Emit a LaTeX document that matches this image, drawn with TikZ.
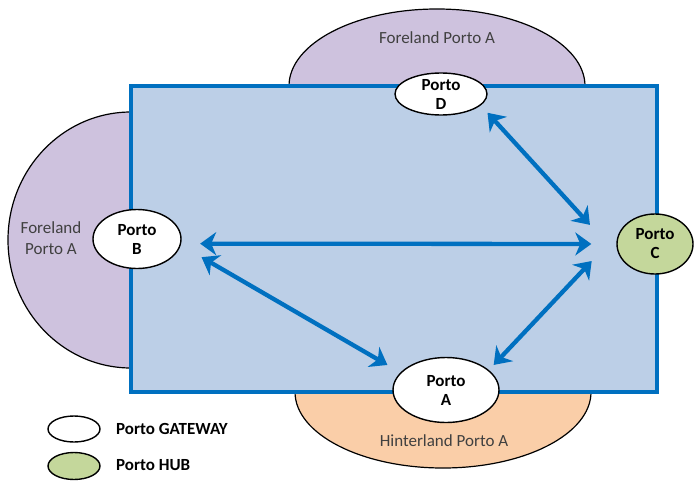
\documentclass[tikz,border=0pt]{standalone}
\usepackage{fontspec}
\setmainfont{Carlito}
\usepackage{tikz}
\usetikzlibrary{shapes.geometric,arrows.meta}
\definecolor{landlila}{RGB}{206,194,222}
\definecolor{landpesca}{RGB}{250,206,168}
\definecolor{mareblu}{RGB}{188,207,231}
\definecolor{lineablu}{RGB}{0,112,192}
\definecolor{hubverde}{RGB}{196,215,155}

\begin{document}
\begin{tikzpicture}[x=1pt,y=-1pt,
  port/.style={ellipse,draw=black,line width=1.4pt,fill=white,inner sep=0pt},
  hub/.style={port,fill=hubverde},
  nome/.style={font=\bfseries\fontsize{17}{19}\selectfont,align=center,inner sep=0pt},
  area/.style={font=\fontsize{17}{21}\selectfont,text=black!75,align=center,inner sep=0pt},
  rotta/.style={draw=lineablu,line width=4.3pt,
    {Stealth[length=16pt,width=23pt,inset=5pt]}-{Stealth[length=16pt,width=23pt,inset=5pt]}}]
\useasboundingbox (0,0) rectangle (695,484);

% foreland / hinterland
\filldraw[fill=landlila,line width=1.2pt] (131,240) ellipse [x radius=123, y radius=128];
\filldraw[fill=landlila,line width=1.2pt] (437,86) ellipse [x radius=148, y radius=77];
\filldraw[fill=landpesca,line width=1.2pt] (443,392) ellipse [x radius=148, y radius=76];

% area del porto
\filldraw[draw=lineablu,fill=mareblu,line width=4pt] (131,86) rectangle (657,392);

\node[area] (forsu) at (437,38) {Foreland Porto A};
\node[area] (forsx) at (51,238) {Foreland\\Porto A};
\node[area] (hinter) at (444,441) {Hinterland Porto A};

% porti
\node[port,minimum width=92,minimum height=42] (D) at (441,94) {};
\node[nome] (Dtxt) at (D) {Porto\\D};
\node[port,minimum width=88,minimum height=59] (B) at (137,239) {};
\node[nome] (Btxt) at (B) {Porto\\B};
\node[port,minimum width=106,minimum height=65] (A) at (446,390) {};
\node[nome] (Atxt) at (A) {Porto\\A};
\node[hub,minimum width=76,minimum height=60] (C) at (655,244) {};
\node[nome] (Ctxt) at (C) {Porto\\C};

% collegamenti
\draw[rotta,shorten <=19pt,shorten >=25pt] (B.-6) -- (C.west);
\draw[rotta,shorten <=24pt,shorten >=15pt] (B.-8) -- (A.159);
\draw[rotta,shorten <=7pt,shorten >=41pt] (A.25) -- (C.160);
\draw[rotta,shorten <=10pt,shorten >=47pt] (D.-16) -- (C.205);

% legenda
\node[port,minimum width=52,minimum height=26] (leggw) at (74,429) {};
\node[nome,anchor=west] (leggwtxt) at (116,429) {Porto GATEWAY};
\node[hub,minimum width=52,minimum height=27] (leghub) at (74,466) {};
\node[nome,anchor=west] (leghubtxt) at (116,465) {Porto HUB};
\end{tikzpicture}
\end{document}
